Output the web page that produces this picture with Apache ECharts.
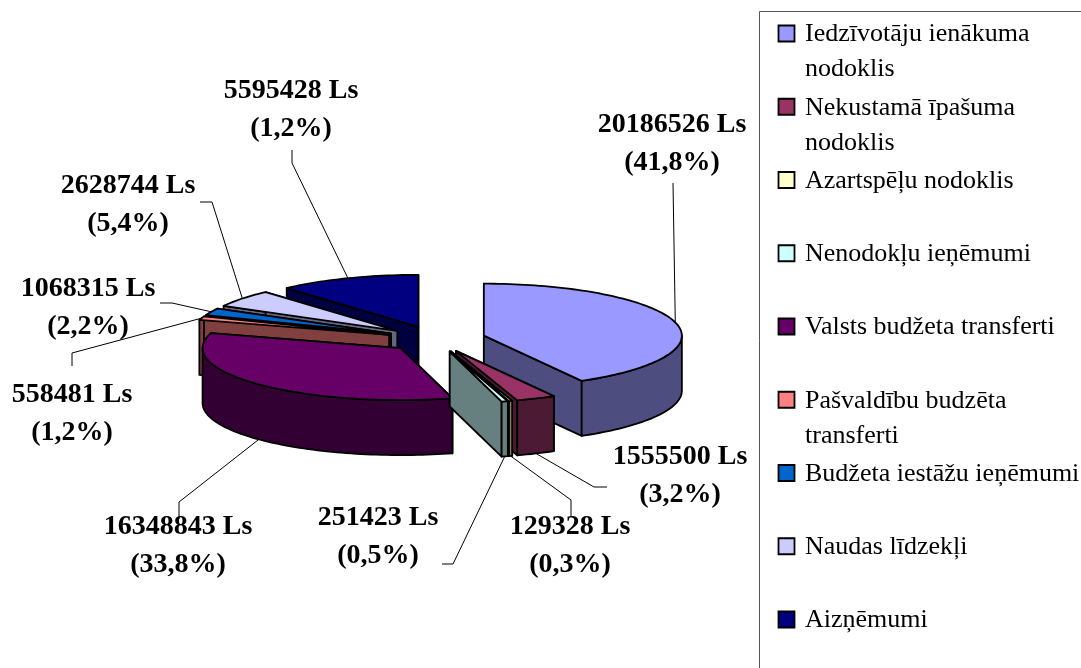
<!DOCTYPE html>
<html>
<head>
<meta charset="utf-8">
<style>
  html, body { margin: 0; padding: 0; background: #fff; }
  #chart { width: 1081px; height: 668px; }
</style>
<script src="https://cdn.jsdelivr.net/npm/echarts@6/dist/echarts.min.js"></script>
</head>
<body>
<div id="chart"></div>
<script>
var categories = [
  'Iedzīvotāju ienākuma\nnodoklis',
  'Nekustamā īpašuma\nnodoklis',
  'Azartspēļu nodoklis',
  'Nenodokļu ieņēmumi',
  'Valsts budžeta transferti',
  'Pašvaldību budzēta\ntransferti',
  'Budžeta iestāžu ieņēmumi',
  'Naudas līdzekļi',
  'Aizņēmumi'
];
var values = [20186526, 1555500, 129328, 251423, 16348843, 558481, 1068315, 2628744, 5595428];
var percentLabels = ['41,8%', '3,2%', '0,3%', '0,5%', '33,8%', '1,2%', '2,2%', '5,4%', '1,2%'];

var topColors = ['#9999ff', '#993366', '#ffffcc', '#ccffff', '#660066', '#ff8080', '#0066cc', '#ccccff', '#000080'];
var sideColors = ['#4d4d80', '#4d1a33', '#808066', '#668080', '#330033', '#804040', '#003366', '#666680', '#000040'];

// label centres and leader bends
var labelCentres = [[672, 144], [680, 476], [570, 546], [378, 537], [178, 546], [72, 414], [88, 308], [128, 205], [291, 110]];
var leaderBends = [
  [[673, 183]],
  [[607, 487], [594, 487]],
  [[571, 517], [571, 500]],
  [[442, 564], [453, 564]],
  [[179, 519], [179, 502]],
  [[72, 366], [72, 353]],
  [[160, 303], [172, 303]],
  [[200, 202], [212, 202]],
  [[292, 150], [292, 163]]
];

var cx = 436, cy = 339, rx = 198, ry = 52, depth = 55, explode = 0.25;
var total = values.reduce(function(a, b) { return a + b; }, 0);

var slices = [];
var running = 0;
values.forEach(function(v, i) {
  var a0 = running / total * 360;
  running += v;
  var a1 = running / total * 360;
  var mid = (a0 + a1) / 2;
  slices.push({
    a0: a0,
    a1: a1,
    mid: mid,
    x: cx + explode * rx * Math.sin(mid * Math.PI / 180),
    y: cy - explode * ry * Math.cos(mid * Math.PI / 180)
  });
});

function rimPoint(s, deg, down) {
  var r = deg * Math.PI / 180;
  return [s.x + rx * Math.sin(r), s.y - ry * Math.cos(r) + (down || 0)];
}

function arcPoints(s, from, to, down) {
  var pts = [];
  var n = Math.max(2, Math.ceil((to - from) / 1.5));
  for (var k = 0; k <= n; k++) {
    pts.push(rimPoint(s, from + (to - from) * k / n, down));
  }
  return pts;
}

function poly(points, fill) {
  return {
    type: 'polygon',
    shape: { points: points },
    style: { fill: fill, stroke: '#000', lineWidth: 1.8, lineJoin: 'round' }
  };
}

function radialFace(s, deg, fill) {
  var p = rimPoint(s, deg);
  var q = rimPoint(s, deg, depth);
  return poly([[s.x, s.y], p, q, [s.x, s.y + depth]], fill);
}

function renderSlice(params, api) {
  var i = api.value(0);
  var s = slices[i];
  var children = [
    radialFace(s, s.a0, sideColors[i]),
    radialFace(s, s.a1, sideColors[i])
  ];
  var from = Math.max(s.a0, 90);
  var to = Math.min(s.a1, 270);
  if (to > from) {
    children.push(poly(arcPoints(s, from, to, 0).concat(arcPoints(s, from, to, depth).reverse()), sideColors[i]));
  }
  children.push(poly([[s.x, s.y]].concat(arcPoints(s, s.a0, s.a1, 0)), topColors[i]));
  return { type: 'group', children: children };
}

function renderLabel(params, api) {
  var i = api.value(0);
  var s = slices[i];
  var front = s.mid > 90 && s.mid < 270;
  var points = leaderBends[i].concat([rimPoint(s, s.mid, front ? depth : 0)]);
  return {
    type: 'group',
    children: [
      {
        type: 'polyline',
        shape: { points: points },
        style: { fill: null, stroke: '#000', lineWidth: 1 }
      },
      {
        type: 'text',
        style: {
          text: values[i] + ' Ls\n(' + percentLabels[i] + ')',
          x: labelCentres[i][0],
          y: labelCentres[i][1],
          align: 'center',
          verticalAlign: 'middle',
          fontFamily: 'Liberation Serif',
          fontWeight: 'bold',
          fontSize: 28,
          lineHeight: 38,
          fill: '#000'
        }
      }
    ]
  };
}

// back slices first
var drawOrder = values.map(function(v, i) { return i; }).sort(function(a, b) {
  return slices[a].y - slices[b].y;
});

var legendGraphics = [{
  type: 'rect',
  shape: { x: 759.5, y: 11.5, width: 400, height: 700 },
  style: { fill: '#fff', stroke: '#555', lineWidth: 1 },
  silent: true
}];
categories.forEach(function(name, i) {
  var top = 25 + i * 73.25;
  legendGraphics.push({
    type: 'rect',
    shape: { x: 778.5, y: top + 0.5, width: 16, height: 16 },
    style: { fill: topColors[i], stroke: '#000', lineWidth: 1.8 }
  });
  legendGraphics.push({
    type: 'text',
    style: {
      text: name,
      x: 805,
      y: top - 8,
      fontFamily: 'Liberation Serif',
      fontSize: 26,
      lineHeight: 35,
      fill: '#000'
    }
  });
});

var chart = echarts.init(document.getElementById('chart'));
chart.setOption({
  backgroundColor: '#fff',
  animation: false,
  graphic: { elements: legendGraphics },
  series: [
    {
      type: 'custom',
      coordinateSystem: 'none',
      silent: true,
      z: 2,
      data: drawOrder.map(function(i) { return [i, values[i]]; }),
      renderItem: renderSlice
    },
    {
      type: 'custom',
      coordinateSystem: 'none',
      silent: true,
      z: 3,
      data: values.map(function(v, i) { return [i, v]; }),
      renderItem: renderLabel
    }
  ]
});
</script>
</body>
</html>
